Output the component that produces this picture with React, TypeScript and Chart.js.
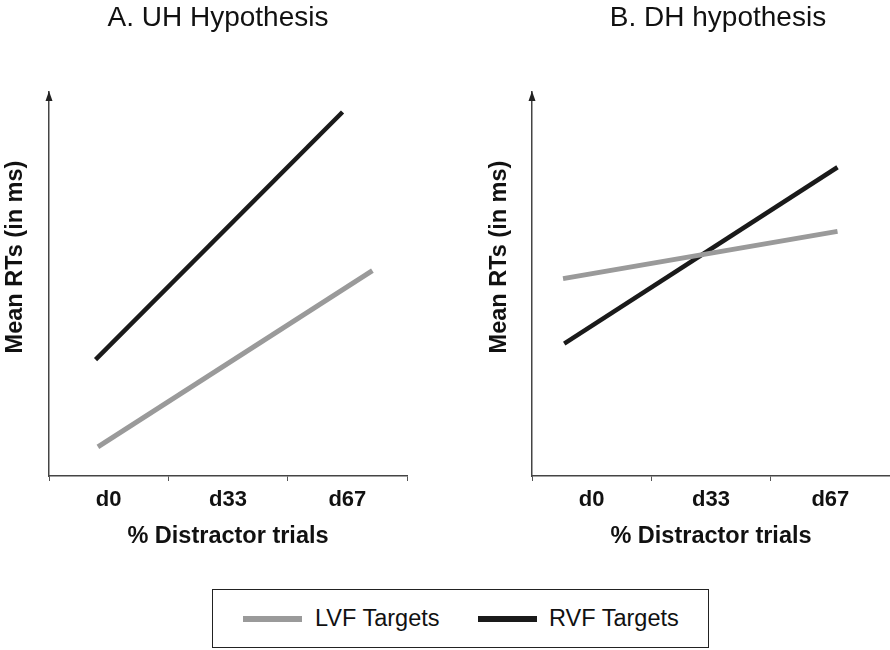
import React, { useEffect, useRef } from "react";
import { Chart, registerables } from "chart.js";

Chart.register(...registerables);

const FONT = "'Liberation Sans', Arial, Helvetica, sans-serif";

// x categories (label positions on a 0..3 axis)
const categories = ["d0", "d33", "d67"];
const categoryPositions = [0.5, 1.5, 2.5];

// Panel A: UH hypothesis (x in category units, y in arbitrary RT units)
const uhLvfX = [0.41, 2.71];
const uhLvfY = [7.6, 53.5];
const uhRvfX = [0.39, 2.46];
const uhRvfY = [30.3, 94.8];

// Panel B: DH hypothesis
const dhLvfX = [0.26, 2.56];
const dhLvfY = [51.4, 63.7];
const dhRvfX = [0.27, 2.56];
const dhRvfY = [34.5, 80.4];

const seriesNames = ["LVF Targets", "RVF Targets"];
const yTitleText = "Mean RTs (in ms)";
const xTitleText = "% Distractor trials";
const GRAY = "#9a9a9a";
const BLACK = "#1a1a1a";

const arrowPlugin = {
  id: "yArrow",
  afterDraw(chart: any) {
    const { ctx, chartArea } = chart;
    const x = chartArea.left;
    const y = chartArea.top;
    ctx.save();
    ctx.fillStyle = "#222";
    ctx.beginPath();
    ctx.moveTo(x, y - 1);
    ctx.lineTo(x - 3.5, y + 9);
    ctx.lineTo(x + 3.5, y + 9);
    ctx.closePath();
    ctx.fill();
    ctx.restore();
  },
};

const yTitlePlugin = {
  id: "yTitleText",
  afterDraw(chart: any, _args: any, opts: any) {
    const { ctx } = chart;
    ctx.save();
    ctx.translate(opts.x, opts.y);
    ctx.rotate(-Math.PI / 2);
    ctx.fillStyle = "#111";
    ctx.font = `bold 23.5px ${FONT}`;
    ctx.textAlign = "center";
    ctx.textBaseline = "middle";
    ctx.fillText(opts.text, 0, 0);
    ctx.restore();
  },
};

function pts(xs: number[], ys: number[]) {
  return xs.map((x, i) => ({ x, y: ys[i] }));
}

type PanelProps = {
  title: string;
  left: number;
  width: number;
  yAxisWidth: number;
  yTitleX: number;
  rightGap: number;
  lvf: { x: number; y: number }[];
  rvf: { x: number; y: number }[];
};

function Panel(p: PanelProps) {
  const ref = useRef<HTMLCanvasElement>(null);
  useEffect(() => {
    if (!ref.current) return;
    const chart = new Chart(ref.current, {
      type: "line",
      data: {
        datasets: [
          {
            label: seriesNames[0],
            data: p.lvf,
            borderColor: GRAY,
            borderWidth: 5,
            borderCapStyle: "butt",
            pointRadius: 0,
            tension: 0,
          },
          {
            label: seriesNames[1],
            data: p.rvf,
            borderColor: BLACK,
            borderWidth: 4.5,
            borderCapStyle: "butt",
            pointRadius: 0,
            tension: 0,
          },
        ],
      },
      options: {
        responsive: false,
        animation: false,
        layout: { padding: 0 },
        plugins: {
          legend: { display: false },
          tooltip: { enabled: false },
          title: {
            display: true,
            text: p.title,
            color: "#111",
            font: { family: FONT, size: 28, weight: "normal", lineHeight: 1 },
            padding: { top: 4, bottom: 60 },
          },
          yTitleText: { x: p.yTitleX, y: 257, text: yTitleText },
        },
        scales: {
          x: {
            type: "linear",
            min: 0,
            max: 3,
            afterFit: (s: any) => {
              s.height = 94;
            },
            ticks: {
              stepSize: 0.5,
              autoSkip: false,
              maxRotation: 0,
              minRotation: 0,
              padding: 6,
              color: "#111",
              font: { family: FONT, size: 22, weight: "bold", lineHeight: 1.2 },
              callback: (v: any) => {
                const i = categoryPositions.indexOf(Number(v));
                return i >= 0 ? categories[i] : "";
              },
            },
            grid: {
              drawOnChartArea: false,
              drawTicks: true,
              tickLength: 5,
              lineWidth: 1,
              color: (c: any) =>
                c.tick && Number(c.tick.value) % 1 === 0 ? "#555" : "rgba(0,0,0,0)",
            },
            border: { display: true, color: "#444", width: 1.5 },
            title: {
              display: true,
              text: xTitleText,
              color: "#111",
              font: { family: FONT, size: 23.5, weight: "bold", lineHeight: 1 },
              padding: { top: 0, bottom: 22 },
            },
          },
          y: {
            type: "linear",
            min: 0,
            max: 100,
            afterFit: (s: any) => {
              s.width = p.yAxisWidth;
            },
            ticks: { display: false },
            grid: { display: false },
            border: { display: true, color: "#444", width: 1.5 },
          },
          yGap: {
            type: "linear",
            position: "right",
            display: true,
            afterFit: (s: any) => {
              s.width = p.rightGap;
            },
            ticks: { display: false },
            grid: { display: false },
            border: { display: false },
          },
        },
      } as any,
      plugins: [arrowPlugin, yTitlePlugin],
    });
    return () => chart.destroy();
  }, []);
  return (
    <canvas
      ref={ref}
      width={p.width}
      height={570}
      style={{ position: "absolute", left: p.left, top: 0, width: p.width, height: 570 }}
    />
  );
}

export default function App() {
  return (
    <div
      style={{
        position: "absolute",
        left: 0,
        top: 0,
        width: 890,
        height: 650,
        overflow: "hidden",
        background: "#fff",
        fontFamily: FONT,
      }}
    >
      <Panel
        title="A. UH Hypothesis"
        left={0}
        width={436}
        yAxisWidth={49}
        yTitleX={16}
        rightGap={29}
        lvf={pts(uhLvfX, uhLvfY)}
        rvf={pts(uhRvfX, uhRvfY)}
      />
      <Panel
        title="B. DH hypothesis"
        left={480}
        width={476}
        yAxisWidth={52}
        yTitleX={20}
        rightGap={66}
        lvf={pts(dhLvfX, dhLvfY)}
        rvf={pts(dhRvfX, dhRvfY)}
      />
      <div
        style={{
          position: "absolute",
          left: 212,
          top: 589,
          width: 497,
          height: 59,
          boxSizing: "border-box",
          border: "1.5px solid #222",
        }}
      >
        <div style={{ position: "absolute", left: 30, top: 26, width: 59, height: 6, background: GRAY }} />
        <div style={{ position: "absolute", left: 102, top: 13, fontSize: 23.5, lineHeight: "30px", color: "#111" }}>
          {seriesNames[0]}
        </div>
        <div style={{ position: "absolute", left: 265, top: 26, width: 59, height: 6, background: BLACK }} />
        <div style={{ position: "absolute", left: 336, top: 13, fontSize: 23.5, lineHeight: "30px", color: "#111" }}>
          {seriesNames[1]}
        </div>
      </div>
    </div>
  );
}
